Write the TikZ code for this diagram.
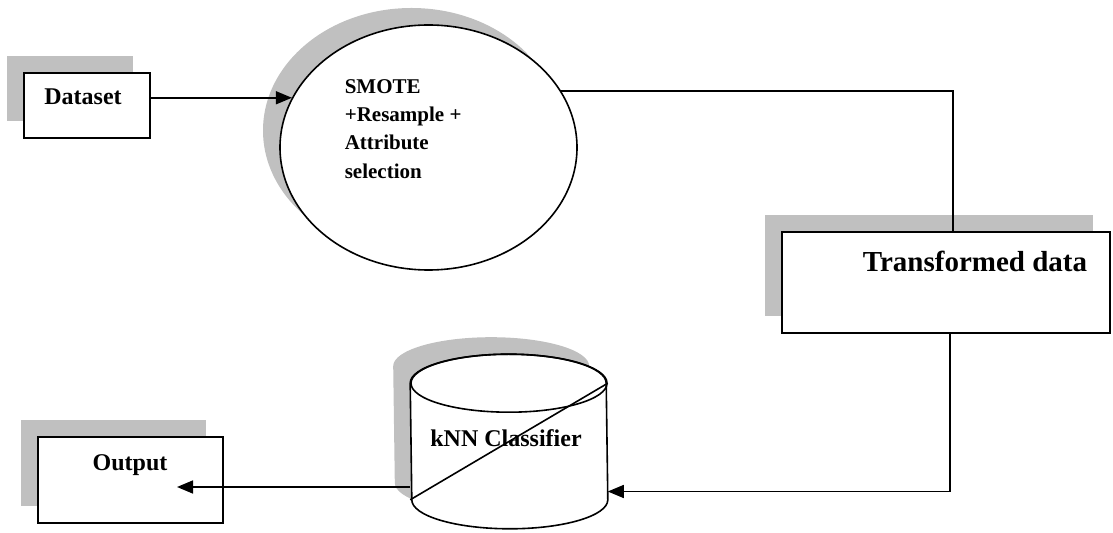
\documentclass[tikz,border=0pt]{standalone}
\usepackage{fontspec}
\setmainfont{Liberation Serif}
\usepackage{tikz}
\usetikzlibrary{positioning,calc,shapes.geometric,shadows,arrows.meta}
\definecolor{ombra}{RGB}{192,192,192}

\begin{document}
\begin{tikzpicture}[x=0.5pt,y=-0.5pt,line width=0.8pt,
    ombreggiato/.style={drop shadow={shadow xshift=-8.5pt,shadow yshift=8.5pt,fill=ombra,opacity=1}},
    blocco/.style={draw,fill=white,ombreggiato,inner sep=0pt},
    freccia/.style={-{Triangle[length=8pt,width=6.5pt]}}]
				\useasboundingbox (0,0) rectangle (1113,533);
				
				% Blocchi rettangolari con ombra grigia
				\node[blocco,minimum width=63pt,minimum height=32.5pt] (dataset) at (87,105.5) {};
				\node[blocco,minimum width=164pt,minimum height=50.5pt] (transf) at (946,282.5) {};
				\node[blocco,minimum width=92.5pt,minimum height=43pt] (output) at (130.5,480) {};
				
				% Ellisse di preprocessing
				\node[blocco,ellipse,minimum width=148.5pt,minimum height=122.5pt] (smote) at (428.5,147.5) {};
				
				% Cilindro del classificatore (corpo tra i centri delle due basi)
				\node[minimum width=98pt,minimum height=57.5pt,inner sep=0pt] (knn) at (509,441.5) {};
				\fill[ombra] ($(knn.north west)+(-17,-17)$) arc[start angle=180,end angle=0,x radius=49pt,y radius=14.5pt]
					-- ($(knn.south east)+(-17,-17)$) arc[start angle=0,end angle=-180,x radius=49pt,y radius=14.5pt] -- cycle;
				\filldraw[fill=white] (knn.north west) arc[start angle=180,end angle=0,x radius=49pt,y radius=14.5pt]
					-- (knn.south east) arc[start angle=0,end angle=-180,x radius=49pt,y radius=14.5pt] -- cycle;
				\draw (knn.north) ellipse[x radius=49pt,y radius=14.5pt];
				\draw (knn.south west) -- (knn.north east);
				
				% Etichette dei blocchi
				\node[font=\bfseries\fontsize{12}{14}\selectfont,anchor=base] (datasetlbl) at (83,105) {Dataset};
				\node[font=\bfseries\fontsize{14.5}{17}\selectfont,anchor=base] (transflbl) at (975,272) {Transformed data};
				\node[font=\bfseries\fontsize{12}{14}\selectfont,anchor=base] (outputlbl) at (130,471) {Output};
				\node[font=\bfseries\fontsize{12}{14}\selectfont,anchor=base] (knnlbl) at (506,447) {kNN Classifier};
				\node[font=\bfseries\fontsize{10.5}{14.2}\selectfont,anchor=north west,align=left,inner sep=0pt] (smotelbl) at (344,78.5)
					{SMOTE\\+Resample +\\Attribute\\selection};
				
				% Collegamenti tra i blocchi
				\coordinate (outtip) at (177,487);
				\draw[freccia] (dataset.east |- smote.160) -- (smote.160);
				\draw (smote.23) -| ($(transf.north)+(7,0)$);
				\draw[freccia] ($(transf.south)+(4,0)$) |- ($(knn.east)+(0,50)$);
				\draw[freccia] ($(knn.west)+(0,45.5)$) -- (outtip);
			\end{tikzpicture}
\end{document}
